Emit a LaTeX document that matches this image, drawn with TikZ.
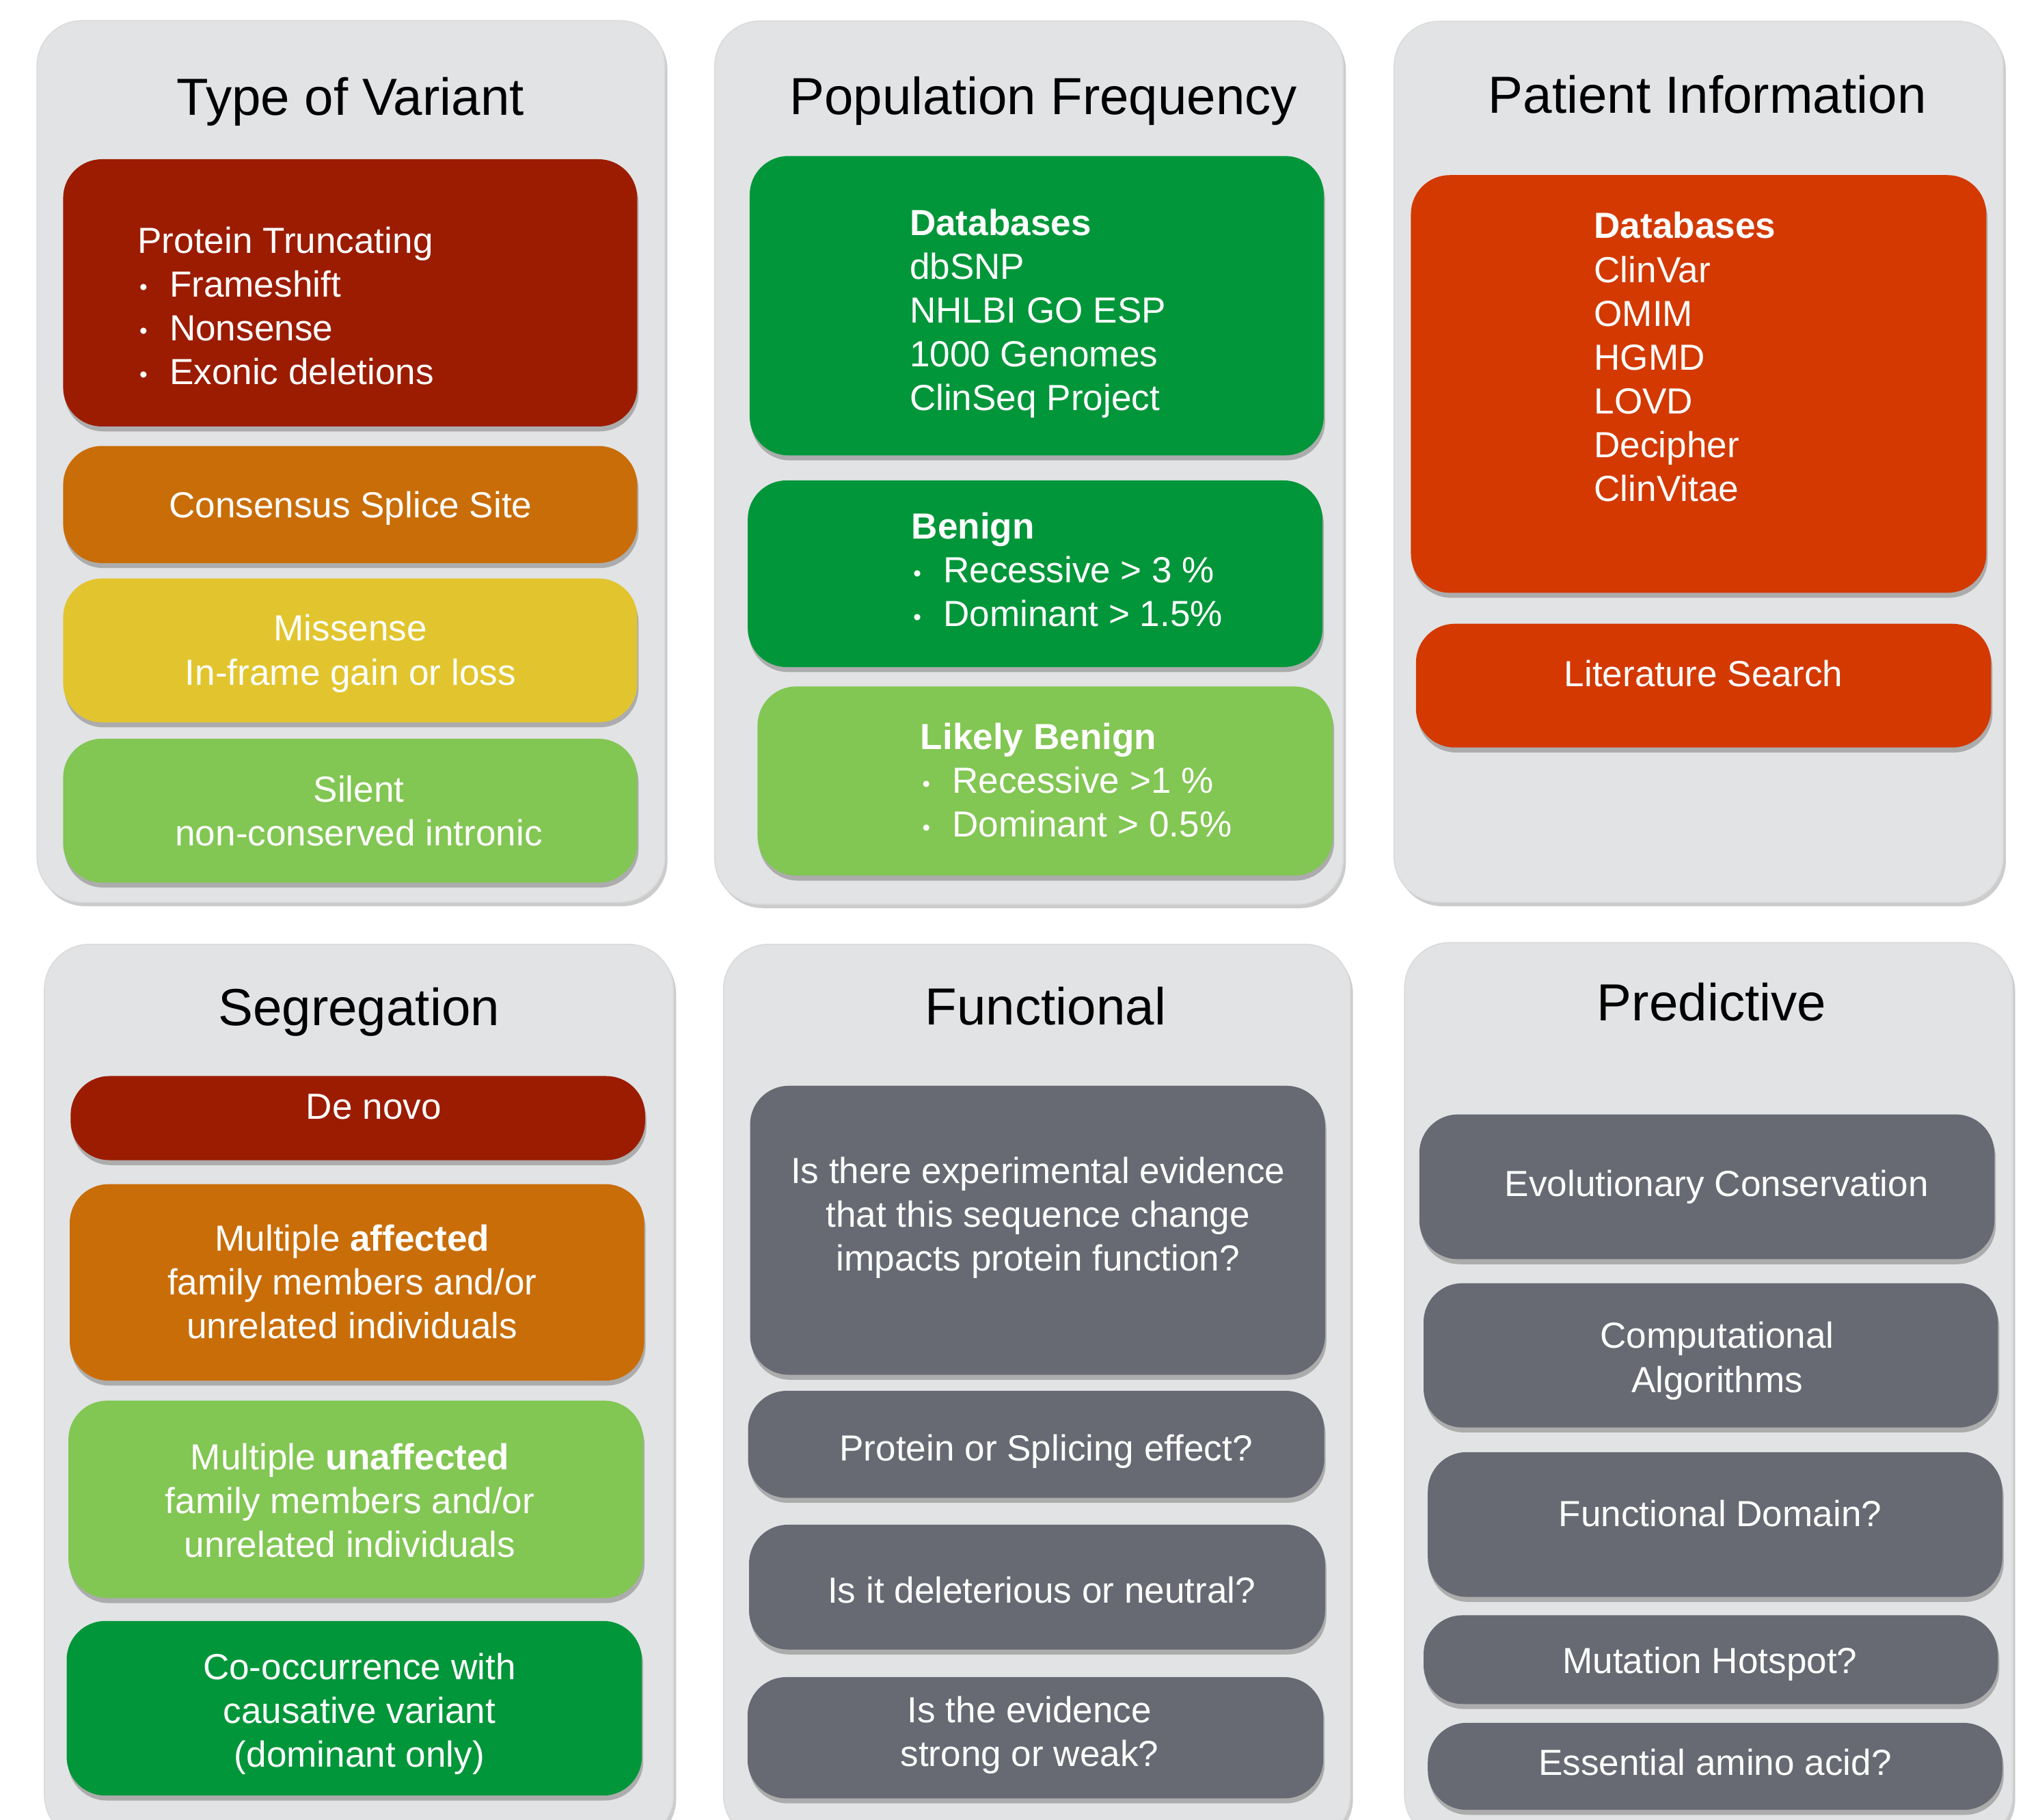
\documentclass[tikz,border=0pt]{standalone}
\usepackage{fontspec}
\setmainfont{Liberation Sans}
\usetikzlibrary{shadows}

\definecolor{panelgray}{HTML}{E2E3E5}
\definecolor{vred}{HTML}{9B1C00}
\definecolor{vorange}{HTML}{C96D08}
\definecolor{vyellow}{HTML}{E2C52E}
\definecolor{lgreen}{HTML}{82C653}
\definecolor{dgreen}{HTML}{009639}
\definecolor{rorange}{HTML}{D33900}
\definecolor{slate}{HTML}{676A72}

\newcommand{\itm}{\makebox[14pt][l]{\hspace{0.8pt}\raisebox{0.8pt}{\fontsize{10}{10}\selectfont\textbullet}}}
\newcommand{\fl}{\rule{0pt}{0.5cm}}

\begin{document}
\begin{tikzpicture}[x=0.02cm,y=-0.02cm]
\tikzstyle{panel}=[fill=panelgray, draw=black!14, line width=0.5pt, rounded corners=0.7cm, drop shadow={shadow xshift=1.2pt, shadow yshift=-1.8pt, opacity=0.4}]
\tikzstyle{card}=[rounded corners=0.6cm, drop shadow={shadow xshift=0.6pt, shadow yshift=-2.2pt, opacity=0.55}]
\tikzstyle{head}=[anchor=base, inner sep=0pt, font=\fontsize{23}{27}\selectfont]
\tikzstyle{txt}=[inner sep=0pt, text=white, align=center, font=\fontsize{16}{19.3}\selectfont]
\tikzstyle{ltxt}=[txt, align=left, anchor=north west]

\useasboundingbox (0,0) rectangle (1568,1409);
\clip (0,0) rectangle (1568,1409);
\fill[white] (0,0) rectangle (1568,1409);

\path[panel] (28.7,16) rectangle (514.7,698.5);
\path[panel] (553.5,16.3) rectangle (1040,700);
\path[panel] (1079.5,16.5) rectangle (1551,698.5);
\path[panel] (34.4,731.2) rectangle (521.4,1425);
\path[panel] (560.2,731.2) rectangle (1045.5,1425);
\path[panel] (1087.6,729.9) rectangle (1558.3,1425);

\path[card, fill=vred] (48.9,123.3) rectangle (493.4,330.2);
\path[card, fill=vorange] (48.9,345.3) rectangle (493.4,436);
\path[card, fill=vyellow] (48.9,447.9) rectangle (493.4,559.3);
\path[card, fill=lgreen] (48.9,572) rectangle (493.4,683.4);

\path[card, fill=dgreen] (580.5,120.8) rectangle (1025,352.6);
\path[card, fill=dgreen] (579,372) rectangle (1024,516.5);
\path[card, fill=lgreen] (586.6,531.5) rectangle (1032,678);

\path[card, fill=rorange] (1092.5,135.6) rectangle (1538,459);
\path[card, fill=rorange] (1096.4,483) rectangle (1541.7,578.8);

\path[card, fill=vred] (54.7,833.2) rectangle (499.5,898.3);
\path[card, fill=vorange] (54,916.9) rectangle (498.8,1069);
\path[card, fill=lgreen] (53,1084.5) rectangle (498,1237.4);
\path[card, fill=dgreen] (51.6,1255.1) rectangle (497,1390.3);

\path[card, fill=slate] (580.8,840.7) rectangle (1026,1064.5);
\path[card, fill=slate] (579.2,1076.9) rectangle (1025.4,1159.8);
\path[card, fill=slate] (580,1180.6) rectangle (1026,1277.2);
\path[card, fill=slate] (578.8,1298.6) rectangle (1024.6,1392.5);

\path[card, fill=slate] (1099,862.9) rectangle (1544.3,975);
\path[card, fill=slate] (1102.3,993.6) rectangle (1547,1105.3);
\path[card, fill=slate] (1105.6,1124.4) rectangle (1550.4,1236.5);
\path[card, fill=slate] (1102.3,1250.7) rectangle (1547,1319.4);
\path[card, fill=slate] (1105.6,1334) rectangle (1550.4,1401.4);

\node[head] (variant) at (271.4,89.3) {Type of Variant};
\node[head] (popfreq) at (808,88.4) {Population Frequency};
\node[head] (patient) at (1322,87.4) {Patient Information};
\node[head] (segreg) at (277.9,794.2) {Segregation};
\node[head] (funct) at (809.6,793.3) {Functional};
\node[head] (predict) at (1325.4,790.6) {Predictive};

\node[ltxt] (trunc) at (106.3,170.6) {\fl Protein Truncating\\\itm Frameshift\\\itm Nonsense\\\itm Exonic deletions};
\node[txt, anchor=base] (splice) at (271.4,401) {Consensus Splice Site};
\node[txt, anchor=north] (missense) at (271.4,471) {\fl Missense\\In-frame gain or loss};
\node[txt, anchor=north] (silent) at (277.9,595.6) {\fl Silent\\non-conserved intronic};

\node[ltxt] (popdb) at (704,157) {\fl\textbf{Databases}\\dbSNP\\NHLBI GO ESP\\1000 Genomes\\ClinSeq Project};
\node[ltxt] (benign) at (705.4,392) {\fl\textbf{Benign}\\\itm Recessive > 3 \%\\\itm Dominant > 1.5\%};
\node[ltxt] (lbenign) at (712.4,555) {\fl\textbf{Likely Benign}\\\itm Recessive >1 \%\\\itm Dominant > 0.5\%};

\node[ltxt] (patdb) at (1234,159.3) {\fl\textbf{Databases}\\ClinVar\\OMIM\\HGMD\\LOVD\\Decipher\\ClinVitae};
\node[txt, anchor=base] (lit) at (1319,531.6) {Literature Search};

\node[txt, anchor=base] (denovo) at (289.4,866.4) {De novo};
\node[txt, anchor=north] (affected) at (272.7,943.4) {\fl Multiple \textbf{affected}\\family members and/or\\unrelated individuals};
\node[txt, anchor=north] (unaffected) at (271,1112.6) {\fl Multiple \textbf{unaffected}\\family members and/or\\unrelated individuals};
\node[txt, anchor=north] (cooccur) at (278.3,1275.3) {\fl Co-occurrence with\\causative variant\\(dominant only)};

\node[txt, anchor=north] (experim) at (803.7,891) {\fl Is there experimental evidence\\that this sequence change\\impacts protein function?};
\node[txt, anchor=base] (effect) at (810,1131) {Protein or Splicing effect?};
\node[txt, anchor=base] (deleter) at (806.6,1241) {Is it deleterious or neutral?};
\node[txt, anchor=north] (strength) at (797.2,1308.5) {\fl Is the evidence\\strong or weak?};

\node[txt, anchor=base] (conserv) at (1329.3,926.2) {Evolutionary Conservation};
\node[txt, anchor=north] (algo) at (1329.6,1018.7) {\fl Computational\\Algorithms};
\node[txt, anchor=base] (domain) at (1332,1182) {Functional Domain?};
\node[txt, anchor=base] (hotspot) at (1324,1295.9) {Mutation Hotspot?};
\node[txt, anchor=base] (aminoacid) at (1328,1374.8) {Essential amino acid?};
\end{tikzpicture}
\end{document}
